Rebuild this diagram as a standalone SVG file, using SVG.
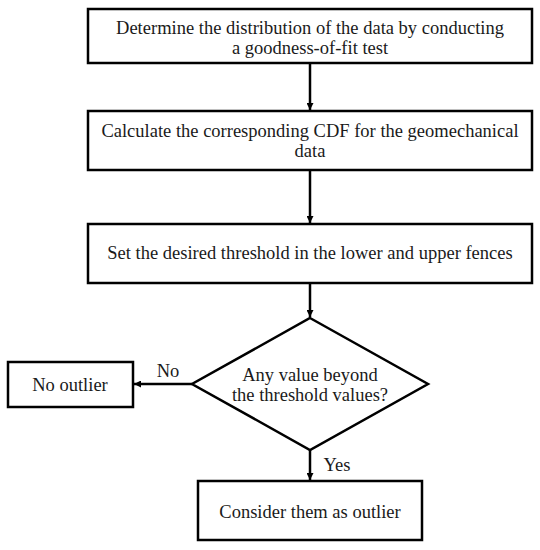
<svg xmlns="http://www.w3.org/2000/svg" width="540" height="550" viewBox="0 0 540 550">
<style>
.box{fill:#fff;stroke:#000;stroke-width:2.5}
.t{font-family:"Liberation Serif","Times New Roman",serif;font-size:18.5px;fill:#1a1a1a;text-anchor:middle}
.c{stroke:#000;stroke-width:2.5;fill:none}
</style>
<defs>
<marker id="ah" viewBox="0 0 10 10" refX="10" refY="5" markerWidth="7" markerHeight="7" orient="auto" markerUnits="userSpaceOnUse">
<path d="M0,0 L10,5 L0,10 z" fill="#000"/>
</marker>
</defs>
<rect width="540" height="550" fill="#fff"/>
<g id="connectors">
<line class="c" x1="310" y1="63" x2="310" y2="110" marker-end="url(#ah)"/>
<line class="c" x1="310" y1="170" x2="310" y2="223" marker-end="url(#ah)"/>
<line class="c" x1="310" y1="283" x2="310" y2="317" marker-end="url(#ah)"/>
<line class="c" x1="192" y1="384" x2="134" y2="384" marker-end="url(#ah)"/>
<line class="c" x1="310" y1="450" x2="310" y2="480" marker-end="url(#ah)"/>
<text class="t" x="168" y="377">No</text>
<text class="t" x="337" y="471">Yes</text>
</g>
<g id="n1">
<rect class="box" x="88" y="9" width="444" height="54"/>
<text class="t" x="310" y="34">Determine the distribution of the data by conducting</text>
<text class="t" x="310" y="54">a goodness-of-fit test</text>
</g>
<g id="n2">
<rect class="box" x="88" y="111" width="444" height="59"/>
<text class="t" x="310" y="137">Calculate the corresponding CDF for the geomechanical</text>
<text class="t" x="310" y="157">data</text>
</g>
<g id="n3">
<rect class="box" x="88" y="224" width="444" height="59"/>
<text class="t" x="310" y="259">Set the desired threshold in the lower and upper fences</text>
</g>
<g id="n4">
<polygon class="box" points="310,318 428,384 310,450 192,384"/>
<text class="t" x="310" y="381">Any value beyond</text>
<text class="t" x="310" y="401">the threshold values?</text>
</g>
<g id="n5">
<rect class="box" x="8" y="362" width="125" height="45"/>
<text class="t" x="70" y="391">No outlier</text>
</g>
<g id="n6">
<rect class="box" x="198" y="481" width="224" height="59"/>
<text class="t" x="310" y="518">Consider them as outlier</text>
</g>
</svg>
